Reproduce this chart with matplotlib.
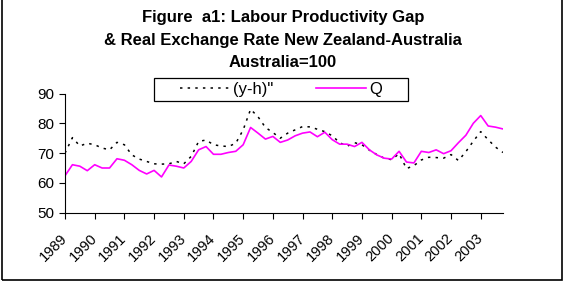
import matplotlib.pyplot as plt
from matplotlib.patches import Rectangle
from matplotlib.transforms import ScaledTranslation

plt.rcParams['font.family'] = ['Liberation Sans', 'DejaVu Sans']

year_labels = ['1989', '1990', '1991', '1992', '1993', '1994', '1995', '1996',
               '1997', '1998', '1999', '2000', '2001', '2002', '2003']

# quarterly values 1989Q1 .. 2003Q4
yh = [70.0, 75.2, 72.4, 73.3, 72.8, 71.7, 71.1, 73.6, 72.8, 69.4,
      68.0, 67.2, 66.4, 66.3, 66.4, 67.2, 66.4, 68.9, 73.9, 74.4,
      72.8, 72.4, 72.2, 73.3, 77.8, 84.7, 82.2, 78.6, 76.9, 75.0,
      76.7, 77.8, 78.9, 78.8, 78.0, 77.2, 75.8, 73.5, 72.3, 73.5,
      72.8, 71.0, 69.5, 68.3, 67.8, 69.8, 64.8, 65.8, 67.7, 68.6,
      68.5, 68.3, 69.5, 67.5, 70.5, 74.0, 77.2, 74.5, 72.0, 70.2]

q = [62.4, 66.1, 65.6, 64.1, 66.1, 65.0, 65.0, 68.1, 67.6, 66.1,
     64.2, 63.0, 64.2, 62.0, 66.0, 65.6, 65.0, 67.2, 71.1, 72.2,
     69.6, 69.6, 70.2, 70.6, 72.8, 78.6, 76.7, 74.7, 75.6, 73.6,
     74.4, 75.8, 76.7, 77.1, 75.5, 77.0, 74.5, 73.0, 73.0, 72.2,
     73.6, 71.1, 69.4, 68.3, 68.0, 70.6, 67.0, 66.7, 70.6, 70.2,
     71.1, 69.8, 70.8, 73.5, 76.0, 80.0, 82.6, 79.1, 78.7, 78.1]

W, H = 570, 284
fig = plt.figure(figsize=(W / 100, H / 100), dpi=100)
ax = fig.add_axes([65 / W, 1 - 212.7 / H, 438 / W, 119.2 / H])

x = list(range(len(q)))
l1, = ax.plot(x, yh, color='black', lw=1.1, linestyle=(0, (1.6, 3.4)))
l2, = ax.plot(x, q, color='#FF00FF', lw=1.2)

ax.set_xlim(0, len(q) - 1)
ax.set_ylim(50, 90)
ax.set_yticks([50, 60, 70, 80, 90])
ax.set_xticks(range(0, 4 * len(year_labels), 4))
ax.set_xticklabels(year_labels, rotation=45, ha='right', va='center',
                   rotation_mode='anchor')
shift = ScaledTranslation(-5 / 100, 0, fig.dpi_scale_trans)
for lab in ax.get_xticklabels():
    lab.set_transform(lab.get_transform() + shift)
ax.tick_params(axis='y', labelsize=11, length=4, width=0.8, direction='out', pad=4)
ax.tick_params(axis='x', labelsize=10.5, length=4, width=0.8, direction='out', pad=13)
for s in ['top', 'right']:
    ax.spines[s].set_visible(False)
for s in ['left', 'bottom']:
    ax.spines[s].set_linewidth(0.8)

fig.text(283 / W, 1 - 10 / H,
         'Figure  a1: Labour Productivity Gap\n'
         '& Real Exchange Rate New Zealand-Australia\n'
         'Australia=100',
         ha='center', va='top', fontsize=12, fontweight='bold', linespacing=1.64)

# legend box drawn separately so its padding can match
leg = fig.legend([l1, l2], ['(y-h)"', 'Q'], loc='center',
                 bbox_to_anchor=(281 / W, 1 - 89.5 / H), ncol=2,
                 fontsize=12, handlelength=3.0, handletextpad=0.15,
                 columnspacing=2.6, borderpad=0.3, frameon=False)
fig.patches.append(Rectangle((154 / W, 1 - 101 / H), 254 / W, 23 / H,
                             transform=fig.transFigure, fill=False,
                             edgecolor='black', lw=0.9))

fig.patches.append(Rectangle((2 / W, 4 / H), 560 / W, 1.0, transform=fig.transFigure,
                             fill=False, edgecolor='black', lw=1.2))

fig.savefig('out.png', dpi=100)
